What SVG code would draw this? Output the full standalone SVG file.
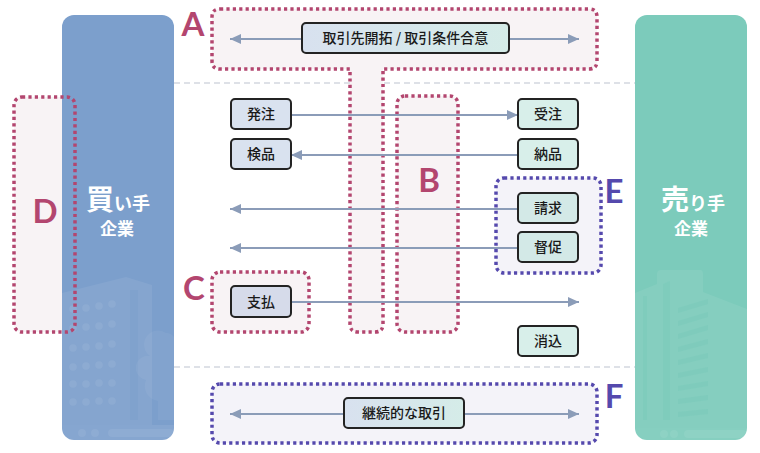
<svg xmlns="http://www.w3.org/2000/svg" width="760" height="453" viewBox="0 0 760 453">
<defs>
<style>
.sep{stroke:#d3d7df;stroke-width:1.3;stroke-dasharray:6 4;fill:none}
.pk{fill:#f8f3f5;stroke:#b3466f;stroke-width:3.5;stroke-dasharray:3.2 3.2}
.bl{fill:#f4f3f9;stroke:#5549ad;stroke-width:3.5;stroke-dasharray:3.2 3.2}
.pkl{fill:#b3466f;font-family:Lato,'Open Sans',sans-serif;font-weight:700;font-size:33px;text-anchor:middle}
.bll{fill:#5549ad;font-family:Lato,'Open Sans',sans-serif;font-weight:700;font-size:33px;text-anchor:middle}
.con{stroke:#8b9cb8;stroke-width:2;fill:none}
.box{stroke:#232323;stroke-width:2}
.buy{fill:#d9e2ef}
.sell{fill:#d8efea}
.t{font-family:'Noto Sans CJK JP','Noto Sans',sans-serif;font-size:14px;font-weight:500;fill:#1a1a1a;text-anchor:middle}
.co{font-family:'Noto Sans CJK JP','Noto Sans',sans-serif;font-weight:700;fill:#ffffff;text-anchor:middle}
.lt{fill:#ffffff;fill-opacity:0.07}
.tr{fill:#ffffff;fill-opacity:0.05}
</style>
<marker id="ah" viewBox="0 0 10 10" refX="10" refY="5" markerWidth="11" markerHeight="11" markerUnits="userSpaceOnUse" orient="auto-start-reverse">
<path d="M0,0.5 L10,5 L0,9.5 Z" fill="#8b9cb8"/>
</marker>
<linearGradient id="gr" x1="0" y1="0" x2="1" y2="0">
<stop offset="0" stop-color="#d8e1ef"/>
<stop offset="1" stop-color="#d5ece8"/>
</linearGradient>
<clipPath id="cb"><rect x="62" y="15" width="112" height="425" rx="12"/></clipPath>
<clipPath id="cs"><rect x="635" y="15" width="112" height="425" rx="12"/></clipPath>
</defs>
<rect width="760" height="453" fill="#ffffff"/>
<line class="sep" x1="174" y1="83" x2="635" y2="83"/>
<line class="sep" x1="174" y1="367" x2="635" y2="367"/>

<g id="buyer">
<rect x="62" y="15" width="112" height="425" rx="12" fill="#7c9fcc"/>
<g clip-path="url(#cb)">
<path class="lt" d="M62,293 L126,277 L152,285 L152,425 L62,425 Z"/>
<rect x="130" y="290" width="8" height="130" fill="#7c9fcc" fill-opacity="0.5"/>
<g class="lt">
<circle cx="73" cy="309" r="3.8"/><circle cx="86" cy="308" r="3.8"/><circle cx="99" cy="306" r="3.8"/><circle cx="112" cy="304" r="3.8"/>
<circle cx="73" cy="328" r="3.8"/><circle cx="86" cy="327" r="3.8"/><circle cx="99" cy="326" r="3.8"/><circle cx="112" cy="324" r="3.8"/>
<circle cx="73" cy="348" r="3.8"/><circle cx="86" cy="347" r="3.8"/><circle cx="99" cy="346" r="3.8"/><circle cx="112" cy="344" r="3.8"/>
<circle cx="73" cy="367" r="3.8"/><circle cx="86" cy="366" r="3.8"/><circle cx="99" cy="365" r="3.8"/><circle cx="112" cy="364" r="3.8"/>
<circle cx="73" cy="384" r="3.8"/><circle cx="86" cy="384" r="3.8"/><circle cx="99" cy="383" r="3.8"/><circle cx="112" cy="383" r="3.8"/>
<circle cx="73" cy="402" r="3.8"/><circle cx="86" cy="402" r="3.8"/><circle cx="99" cy="401" r="3.8"/><circle cx="112" cy="401" r="3.8"/>
</g>
<path class="tr" d="M166,333 A10,10 0 0 1 174,337 L174,420 L158,420 L158,401 A15,15 0 0 1 146,380 A12,12 0 0 1 150,356 A10,10 0 0 1 166,333 Z"/>
<rect x="62" y="425" width="112" height="15" fill="#ffffff" fill-opacity="0.08"/>
<g class="lt"><circle cx="82" cy="433" r="4"/><circle cx="95" cy="433" r="4"/><rect x="108" y="429" width="66" height="8" rx="4"/></g>
</g>
<text class="co" x="118" y="210"><tspan font-size="28">買</tspan><tspan font-size="18">い手</tspan></text>
<text class="co" x="117" y="235" font-size="17">企業</text>
</g>

<g id="seller">
<rect x="635" y="15" width="112" height="425" rx="12" fill="#7ccbbb"/>
<g clip-path="url(#cs)">
<path class="lt" d="M635,293 L657,284 L657,274 Q657,270 661,270 L700,270 Q703,270 703,274 L703,292 L747,309 L747,428 L635,428 Z"/>
<rect x="643" y="296" width="4" height="124" fill="#7ccbbb" fill-opacity="0.6"/>
<path d="M663,284 L670,281 L670,420 L663,420 Z" fill="#7ccbbb" fill-opacity="0.6"/>
<g fill="#7ccbbb" fill-opacity="0.7">
<path d="M678,308 L708,299 L708,304 L678,313 Z"/>
<path d="M678,321 L708,312 L708,317 L678,326 Z"/>
<path d="M678,334 L708,325 L708,330 L678,339 Z"/>
<path d="M678,347 L708,339 L708,344 L678,352 Z"/>
<path d="M678,360 L708,353 L708,358 L678,365 Z"/>
<path d="M678,373 L708,367 L708,372 L678,378 Z"/>
<path d="M678,386 L708,381 L708,386 L678,391 Z"/>
<path d="M678,399 L708,395 L708,400 L678,404 Z"/>
<path d="M678,412 L708,409 L708,414 L678,417 Z"/>
</g>
<rect x="635" y="428" width="112" height="12" fill="#ffffff" fill-opacity="0.08"/>
<g class="lt"><circle cx="664" cy="434" r="4"/><circle cx="674" cy="434" r="4"/><rect x="684" y="430" width="63" height="8" rx="4"/></g>
</g>
<text class="co" x="693" y="210"><tspan font-size="28">売</tspan><tspan font-size="18">り手</tspan></text>
<text class="co" x="691" y="235" font-size="17">企業</text>
</g>

<g id="regionA">
<path class="pk" d="M220,9 H589 Q597,9 597,17 V61 Q597,69 589,69 H383 V324 Q383,332 375,332 H358 Q350,332 350,324 V69 H220 Q212,69 212,61 V17 Q212,9 220,9 Z"/>
<text class="pkl" x="193" y="36">A</text>
</g>
<g id="regionB">
<rect class="pk" x="397" y="96" width="61" height="236" rx="8"/>
<text class="pkl" x="429" y="192">B</text>
</g>
<g id="regionC">
<rect class="pk" x="212" y="272" width="97" height="60" rx="8"/>
<text class="pkl" x="194" y="300">C</text>
</g>
<g id="regionD">
<path d="M22,97 H62 V332 H22 Q14,332 14,324 V105 Q14,97 22,97 Z" fill="#f8f3f5"/>
<rect x="14" y="97" width="61" height="235" rx="8" fill="none" stroke="#b3466f" stroke-width="3.5" stroke-dasharray="3.2 3.2"/>
<text class="pkl" x="45" y="223">D</text>
</g>
<g id="regionE">
<rect class="bl" x="496" y="178" width="105" height="95" rx="8"/>
<text class="bll" x="614" y="203">E</text>
</g>
<g id="regionF">
<rect class="bl" x="212" y="384" width="385" height="59" rx="8"/>
<text class="bll" x="614" y="408">F</text>
</g>

<g id="connectors">
<line class="con" x1="230" y1="39" x2="579" y2="39" marker-start="url(#ah)" marker-end="url(#ah)"/>
<line class="con" x1="291" y1="115" x2="518" y2="115" marker-end="url(#ah)"/>
<line class="con" x1="518" y1="155" x2="291" y2="155" marker-end="url(#ah)"/>
<line class="con" x1="518" y1="209" x2="230" y2="209" marker-end="url(#ah)"/>
<line class="con" x1="518" y1="248" x2="230" y2="248" marker-end="url(#ah)"/>
<line class="con" x1="291" y1="302" x2="579" y2="302" marker-end="url(#ah)"/>
<line class="con" x1="230" y1="414" x2="579" y2="414" marker-start="url(#ah)" marker-end="url(#ah)"/>
</g>

<g id="n-torihikisaki">
<rect class="box" x="302" y="23" width="207" height="30" rx="4" fill="url(#gr)"/>
<text class="t" x="405.5" y="43">取引先開拓 / 取引条件合意</text>
</g>
<g id="n-hatchu">
<rect class="box buy" x="231" y="99" width="60" height="30" rx="4"/>
<text class="t" x="261" y="119">発注</text>
</g>
<g id="n-kenpin">
<rect class="box buy" x="231" y="139" width="60" height="30" rx="4"/>
<text class="t" x="261" y="159">検品</text>
</g>
<g id="n-shiharai">
<rect class="box" x="231" y="286" width="60" height="31" rx="4" fill="#d6dbea"/>
<text class="t" x="261" y="306.5">支払</text>
</g>
<g id="n-juchu">
<rect class="box sell" x="518" y="99" width="60" height="30" rx="4"/>
<text class="t" x="548" y="119">受注</text>
</g>
<g id="n-nohin">
<rect class="box sell" x="518" y="139" width="60" height="30" rx="4"/>
<text class="t" x="548" y="159">納品</text>
</g>
<g id="n-seikyu">
<rect class="box" x="518" y="193" width="60" height="30" rx="4" fill="#d3e9e7"/>
<text class="t" x="548" y="213">請求</text>
</g>
<g id="n-tokusoku">
<rect class="box" x="518" y="232" width="60" height="30" rx="4" fill="#d3e9e7"/>
<text class="t" x="548" y="252">督促</text>
</g>
<g id="n-keshikomi">
<rect class="box sell" x="518" y="326" width="60" height="30" rx="4"/>
<text class="t" x="548" y="346">消込</text>
</g>
<g id="n-keizoku">
<rect class="box" x="344" y="398" width="120" height="30" rx="4" fill="url(#gr)"/>
<text class="t" x="404" y="418">継続的な取引</text>
</g>
</svg>
